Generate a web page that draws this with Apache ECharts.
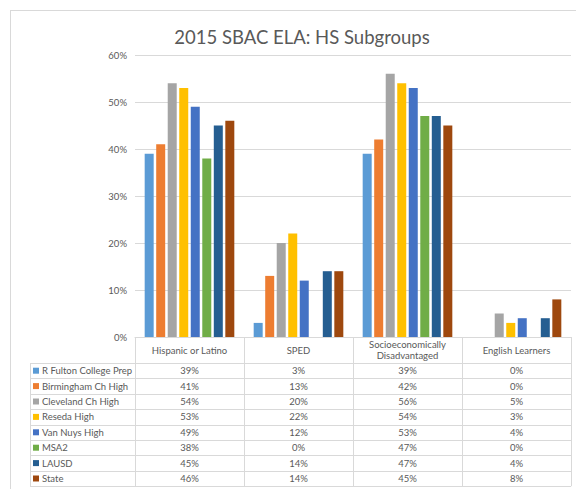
<!DOCTYPE html>
<html>
<head>
<meta charset="utf-8">
<script src="https://cdn.jsdelivr.net/npm/echarts@6/dist/echarts.min.js"></script>
<style>
html,body{margin:0;padding:0;background:#fff;}
#c{width:576px;height:489px;}
</style>
</head>
<body>
<div id="c"></div>
<script>
const categories = ['Hispanic or Latino', 'SPED', 'Socioeconomically\nDisadvantaged', 'English Learners'];
const seriesNames = ['R Fulton College Prep', 'Birmingham Ch High', 'Cleveland Ch High', 'Reseda High', 'Van Nuys High', 'MSA2', 'LAUSD', 'State'];
const rFulton    = [39, 3, 39, 0];
const birmingham = [41, 13, 42, 0];
const cleveland  = [54, 20, 56, 5];
const reseda     = [53, 22, 54, 3];
const vanNuys    = [49, 12, 53, 4];
const msa2       = [38, 0, 47, 0];
const lausd      = [45, 14, 47, 4];
const state      = [46, 14, 45, 8];
const yTicks = [0, 10, 20, 30, 40, 50, 60];
const colors = ['#5B9BD5', '#ED7D31', '#A5A5A5', '#FFC000', '#4472C4', '#70AD47', '#255E91', '#9E480E'];

const seriesData = [rFulton, birmingham, cleveland, reseda, vanNuys, msa2, lausd, state];

// layout
const W = 576, H = 489;
const gridL = 135, gridR = 571, gridT = 55, gridB = 337;
const headerB = 363, rowH = 15.4, legendColL = 30;
const catW = (gridR - gridL) / categories.length;
const font = 'Lato, "Liberation Sans", sans-serif';
const txt = '#595959';
const lineC = '#d9d9d9';

const chart = echarts.init(document.getElementById('c'), null, {renderer: 'svg'});

const graphics = [];
function hline(x1, x2, y) {
  graphics.push({type: 'line', silent: true, shape: {x1: x1, y1: y, x2: x2, y2: y}, style: {stroke: lineC, lineWidth: 1}});
}
function vline(x, y1, y2) {
  graphics.push({type: 'line', silent: true, shape: {x1: x, y1: y1, x2: x, y2: y2}, style: {stroke: lineC, lineWidth: 1}});
}
// outer chart border
hline(10, W, 10.5);
vline(10.5, 10, H);
// table
const tableB = headerB + rowH * seriesNames.length;
hline(legendColL, gridR, headerB + 0.5);
for (let i = 1; i <= seriesNames.length; i++) hline(legendColL, gridR, Math.round(headerB + rowH * i) + 0.5);
vline(legendColL + 0.5, headerB, tableB);
for (let j = 0; j <= categories.length; j++) vline(Math.round(gridL + catW * j) + 0.5, gridB, tableB);
// cell texts
seriesData.forEach(function (arr, i) {
  arr.forEach(function (v, j) {
    graphics.push({
      type: 'text', silent: true,
      x: gridL + catW * (j + 0.5), y: headerB + rowH * (i + 0.5),
      style: {text: v + '%', fill: txt, font: '9.5px ' + font, align: 'center', verticalAlign: 'middle'}
    });
  });
});

const option = {
  backgroundColor: '#fff',
  color: colors,
  animation: false,
  title: {
    text: '2015 SBAC ELA: HS Subgroups',
    left: 297, top: 22, textAlign: 'center',
    textStyle: {fontFamily: font, fontSize: 18.5, fontWeight: 'normal', color: txt}
  },
  legend: {
    orient: 'vertical',
    left: 33, top: headerB,
    itemWidth: 6, itemHeight: 6, itemGap: 0,
    icon: 'rect', selectedMode: false,
    padding: 0,
    textStyle: {fontFamily: font, fontSize: 9.5, color: txt, lineHeight: rowH, padding: [0, 0, 0, -2]},
    data: seriesNames
  },
  grid: {left: gridL, right: W - gridR, top: gridT, bottom: H - gridB, containLabel: false},
  xAxis: {
    type: 'category',
    data: categories,
    axisLine: {lineStyle: {color: lineC}},
    axisTick: {show: false},
    axisLabel: {fontFamily: font, fontSize: 9.5, color: txt, lineHeight: 11, margin: 13, verticalAlign: 'middle', interval: 0}
  },
  yAxis: {
    type: 'value', min: 0, max: 60, interval: 10,
    axisLine: {show: false}, axisTick: {show: false},
    splitLine: {lineStyle: {color: lineC}},
    axisLabel: {fontFamily: font, fontSize: 9.5, color: txt, margin: 8, formatter: function (v) { return yTicks.indexOf(v) >= 0 ? v + '%' : ''; }}
  },
  series: seriesNames.map(function (n, i) {
    return {name: n, type: 'bar', data: seriesData[i], barWidth: 9, barGap: '28%'};
  }),
  graphic: graphics
};
chart.setOption(option);
</script>
</body>
</html>
